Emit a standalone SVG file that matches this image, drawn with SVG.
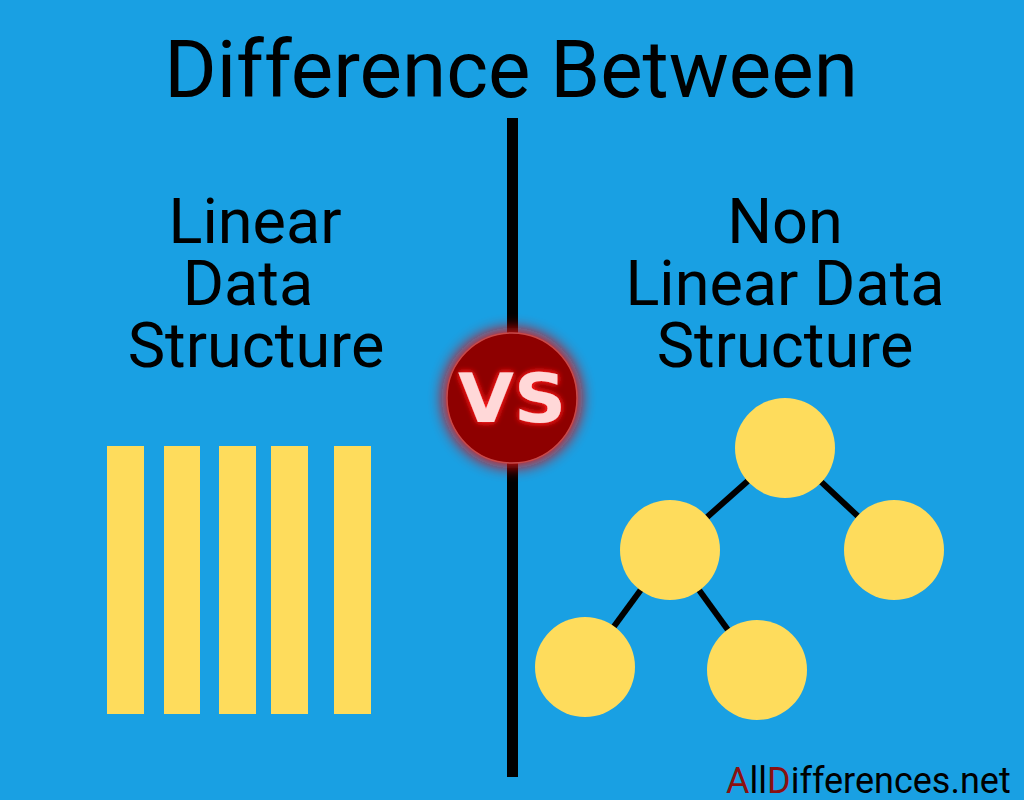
<svg xmlns="http://www.w3.org/2000/svg" width="1024" height="800" viewBox="0 0 1024 800">
<defs>
<style>
.t{font-family:Roboto,"Liberation Sans",sans-serif;fill:#000;text-anchor:middle}
.h{font-size:63px}
.bar{fill:#fedc5c}
.nd{fill:#fedc5c}
.edge{stroke:#000;stroke-width:6}
</style>
<filter id="glow" x="-50%" y="-50%" width="200%" height="200%">
<feGaussianBlur stdDeviation="7"/>
</filter>
<filter id="tglow" x="-30%" y="-50%" width="160%" height="200%">
<feGaussianBlur in="SourceAlpha" stdDeviation="3" result="b"/>
<feFlood flood-color="#ff2020"/>
<feComposite in2="b" operator="in" result="g"/>
<feMerge><feMergeNode in="g"/><feMergeNode in="g"/><feMergeNode in="SourceGraphic"/></feMerge>
</filter>
</defs>
<rect width="1024" height="800" fill="#19a0e3"/>
<text class="t" x="511" y="97" font-size="80">Difference Between</text>
<rect x="507" y="118" width="11" height="659" fill="#000"/>
<g id="left-title">
<text class="t h" x="255" y="243">Linear</text>
<text class="t h" x="248" y="305">Data</text>
<text class="t h" x="256" y="367">Structure</text>
</g>
<g id="right-title">
<text class="t h" x="785" y="243">Non</text>
<text class="t h" x="785" y="305">Linear Data</text>
<text class="t h" x="785" y="367">Structure</text>
</g>
<g id="bars">
<rect class="bar" x="107" y="446" width="37" height="268"/>
<rect class="bar" x="164" y="446" width="36" height="268"/>
<rect class="bar" x="219" y="446" width="37" height="268"/>
<rect class="bar" x="271" y="446" width="37" height="268"/>
<rect class="bar" x="334" y="446" width="37" height="268"/>
</g>
<g id="connectors">
<line class="edge" x1="785" y1="448" x2="670" y2="550"/>
<line class="edge" x1="785" y1="448" x2="894" y2="550"/>
<line class="edge" x1="670" y1="550" x2="585" y2="666"/>
<line class="edge" x1="670" y1="550" x2="757" y2="670"/>
</g>
<g id="node-root"><circle class="nd" cx="785" cy="448" r="50"/></g>
<g id="node-left"><circle class="nd" cx="670" cy="550" r="50"/></g>
<g id="node-right"><circle class="nd" cx="894" cy="550" r="50"/></g>
<g id="node-ll"><circle class="nd" cx="585" cy="667" r="50"/></g>
<g id="node-lr"><circle class="nd" cx="757" cy="670" r="50"/></g>
<g id="vs">
<circle cx="512" cy="398" r="70" fill="#e01010" filter="url(#glow)" opacity="0.9"/>
<circle cx="512" cy="398" r="65" fill="#8e0000" stroke="#c84a4a" stroke-width="1.5"/>
<text x="512" y="422" font-family="'DejaVu Sans',sans-serif" font-weight="bold" font-size="67" fill="#ffd8d8" text-anchor="middle" textLength="108" lengthAdjust="spacingAndGlyphs" filter="url(#tglow)">VS</text>
</g>
<text x="726" y="793" font-family="Roboto,'Liberation Sans',sans-serif" font-size="36" fill="#000"><tspan fill="#8b1010">A</tspan>ll<tspan fill="#8b1010">D</tspan>ifferences.net</text>
</svg>
